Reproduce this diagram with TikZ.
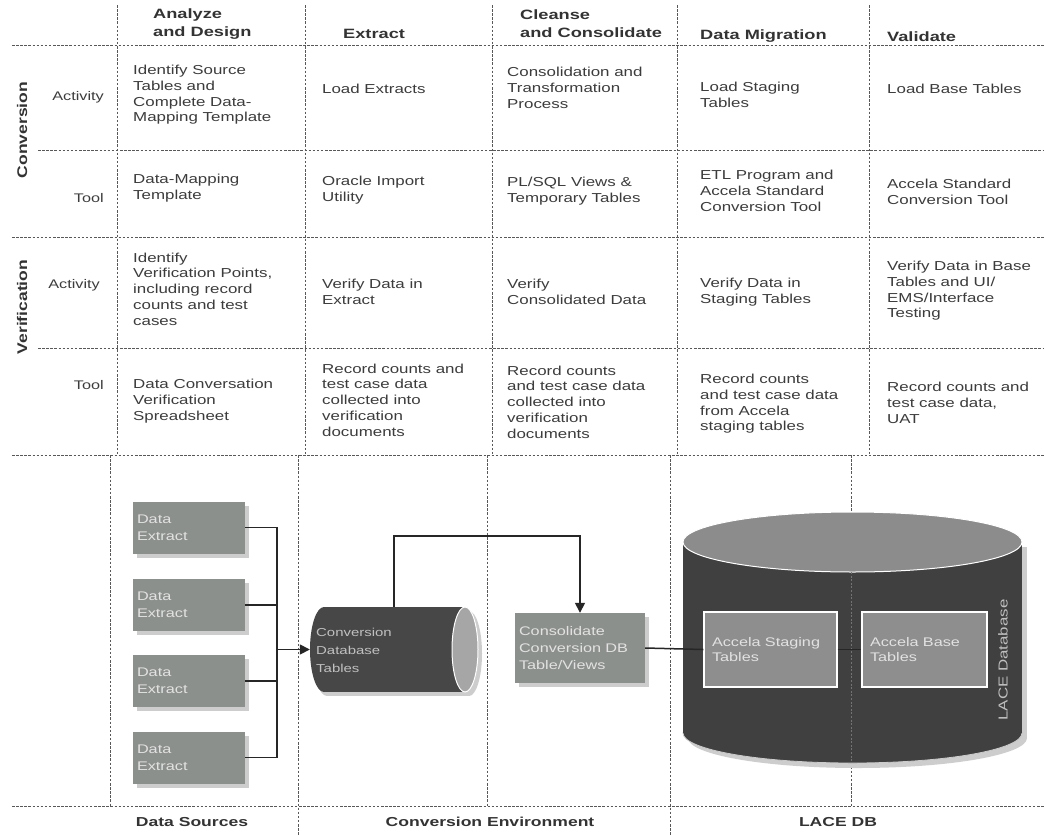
\documentclass[tikz,border=0pt]{standalone}
\usepackage{fontspec}
\setmainfont{Liberation Sans}
\newfontfamily\cellfam[FakeStretch=1.3]{Liberation Sans}
\newfontfamily\hdrfam[FakeStretch=1.35]{Liberation Sans}
\newfontfamily\sidefam[FakeStretch=1.25]{Liberation Sans}
\newfontfamily\boxfam[FakeStretch=1.3]{Liberation Sans}
\usetikzlibrary{arrows.meta,shadows,calc}
\definecolor{gridc}{HTML}{585858}
\definecolor{txt}{HTML}{3C3C3C}
\definecolor{hdrc}{HTML}{333333}
\definecolor{boxc}{HTML}{8C908C}
\definecolor{shadowc}{HTML}{CDCDCD}
\definecolor{convbody}{HTML}{474747}
\definecolor{convend}{HTML}{A6A6A6}
\definecolor{lacebody}{HTML}{404040}
\definecolor{lacetop}{HTML}{8C8C8C}
\definecolor{innerc}{HTML}{8E8E8E}
\definecolor{lighttxt}{HTML}{E2E2E2}
\tikzset{
  gridline/.style={draw=gridc, line width=0.9pt, dash pattern=on 2.5pt off 1.6pt},
  cell/.style={anchor=west, align=left, inner sep=0pt, text=txt,
    font=\cellfam\fontsize{13}{15.7}\selectfont},
  hdr/.style={anchor=west, align=left, inner sep=0pt, text=hdrc,
    font=\hdrfam\bfseries\fontsize{13.5}{18}\selectfont},
  rowlbl/.style={anchor=east, inner sep=0pt, text=txt,
    font=\cellfam\fontsize{12.5}{15.7}\selectfont},
  sidelbl/.style={rotate=90, inner sep=0pt, text=hdrc,
    font=\sidefam\bfseries\fontsize{14}{16}\selectfont},
  extractbox/.style={rectangle, fill=boxc, minimum width=112pt, minimum height=52pt,
    text width=104pt, inner xsep=4pt, align=left, text=lighttxt,
    font=\boxfam\fontsize{12.5}{17}\selectfont,
    drop shadow={opacity=1, fill=shadowc, shadow xshift=4pt, shadow yshift=-4pt}},
  innerbox/.style={rectangle, fill=innerc, draw=white, line width=1.2pt,
    minimum height=75pt, inner xsep=8pt, align=left, text=lighttxt,
    font=\boxfam\fontsize{12.5}{15}\selectfont},
  conn/.style={draw=black!85, line width=1.5pt},
  tip/.style={-{Triangle[length=10pt,width=10pt]}},
  foot/.style={inner sep=0pt, text=hdrc, font=\hdrfam\bfseries\fontsize{13}{15}\selectfont}
}
\begin{document}
\begin{tikzpicture}[x=1pt,y=-1pt]
\useasboundingbox[fill=white] (0,0) rectangle (1044,835);

% ---------- grid ----------
\draw[gridline] (12,45) -- (1044,45);
\draw[gridline] (38,150) -- (1044,150);
\draw[gridline] (12,237) -- (1044,237);
\draw[gridline] (38,348) -- (1044,348);
\draw[gridline] (12,455) -- (1044,455);
\draw[gridline] (12,806) -- (1044,806);
\foreach \x in {117,305,492,677,869} \draw[gridline] (\x,5) -- (\x,455);
\draw[gridline] (110,455) -- (110,806);
\draw[gridline] (298,455) -- (298,835);
\draw[gridline] (487,455) -- (487,806);
\draw[gridline] (670,455) -- (670,835);
\draw[gridline] (851,455) -- (851,806);

% ---------- headers ----------
\node[hdr] (h1) at (153,24) {Analyze\\and Design};
\node[hdr] (h2) at (343,34) {Extract};
\node[hdr] (h3) at (520,24) {Cleanse\\and  Consolidate};
\node[hdr] (h4) at (700,36) {Data Migration};
\node[hdr] (h5) at (887,37) {Validate};

% ---------- side labels ----------
\node[sidelbl] (sconv) at (22,130) {Conversion};
\node[sidelbl] (sver) at (22,307) {Verification};
\node[rowlbl] (l1) at (104,97) {Activity};
\node[rowlbl] (l2) at (104,198) {Tool};
\node[rowlbl] (l3) at (100,285) {Activity};
\node[rowlbl] (l4) at (104,385) {Tool};

% ---------- conversion activity ----------
\node[cell] (c11) at (133,95) {Identify Source\\Tables and\\Complete Data-\\Mapping Template};
\node[cell] (c12) at (322,89) {Load Extracts};
\node[cell] (c13) at (507,88) {Consolidation and\\Transformation\\Process};
\node[cell] (c14) at (700,95) {Load Staging\\Tables};
\node[cell] (c15) at (887,89) {Load Base Tables};
% ---------- conversion tool ----------
\node[cell] (c21) at (133,188) {Data-Mapping\\Template};
\node[cell] (c22) at (322,190) {Oracle Import\\Utility};
\node[cell] (c23) at (507,191) {PL/SQL Views \&\\Temporary Tables};
\node[cell] (c24) at (700,191) {ETL Program and\\Accela Standard\\Conversion Tool};
\node[cell] (c25) at (887,192) {Accela Standard\\Conversion Tool};
% ---------- verification activity ----------
\node[cell] (c31) at (133,289) {Identify\\Verification Points,\\including record\\counts and test\\cases};
\node[cell] (c32) at (322,292) {Verify Data in\\Extract};
\node[cell] (c33) at (507,292) {Verify\\Consolidated Data};
\node[cell] (c34) at (700,292) {Verify Data in\\Staging Tables};
\node[cell] (c35) at (887,291) {Verify Data in Base\\Tables and UI/\\EMS/Interface\\Testing};
% ---------- verification tool ----------
\node[cell] (c41) at (133,401) {Data Conversation\\Verification\\Spreadsheet};
\node[cell] (c42) at (322,400) {Record counts and\\test case data\\collected into\\verification\\documents};
\node[cell] (c43) at (507,402) {Record counts\\and test case data\\collected into\\verification\\documents};
\node[cell] (c44) at (700,404) {Record counts\\and test case data\\from Accela\\staging tables};
\node[cell] (c45) at (887,403) {Record counts and\\test case data,\\UAT};

% ---------- data extract boxes ----------
\node[extractbox] (d1) at (189,527.5) {Data\\Extract};
\node[extractbox] (d2) at (189,605) {Data\\Extract};
\node[extractbox] (d3) at (189,681) {Data\\Extract};
\node[extractbox] (d4) at (189,757.5) {Data\\Extract};

% ---------- conversion database cylinder ----------
\fill[shadowc] (327,611) rectangle (469,696);
\fill[shadowc] (327,653.5) ellipse[x radius=14, y radius=42.5];
\fill[shadowc] (469,653.5) ellipse[x radius=13, y radius=42.5];
\fill[convbody] (324,607) rectangle (465,692);
\fill[convbody] (324,649.5) ellipse[x radius=14, y radius=42.5];
\filldraw[fill=convend, draw=white, line width=1pt] (465,649.5) ellipse[x radius=13, y radius=42.5];
\node[inner sep=0pt, minimum width=168pt, minimum height=85pt] (conv) at (394,649.5) {};
\node[anchor=west, align=left, inner sep=0pt, text=lighttxt!85!black,
  font=\boxfam\fontsize{11.5}{18}\selectfont] (convtxt) at (316,650) {Conversion\\Database\\Tables};

% ---------- consolidate box ----------
\node[extractbox, minimum width=130pt, minimum height=70pt, text width=122pt] (consol) at (580,648)
  {Consolidate\\Conversion DB\\Table/Views};

% ---------- LACE cylinder ----------
\fill[shadowc] (688,547) rectangle (1027,738);
\fill[shadowc] (857.5,738) ellipse[x radius=169.5, y radius=30];
\fill[lacebody] (683,542) rectangle (1022,733);
\filldraw[fill=lacebody, draw=white!80!black, line width=0.8pt] (852.5,733) ellipse[x radius=169.5, y radius=30];
\fill[lacebody] (683,542) rectangle (1022,733);
\filldraw[fill=lacetop, draw=white, line width=1pt] (852.5,542) ellipse[x radius=169.5, y radius=30];
\node[inner sep=0pt, minimum width=339pt, minimum height=251pt] (lace) at (852.5,637.5) {};
\draw[draw=white!45!black, line width=0.7pt, dash pattern=on 2pt off 1.6pt] (851,572) -- (851,762);
\node[innerbox, minimum width=133pt, text width=117pt] (staging) at (770.5,649.5) {Accela Staging\\Tables};
\node[innerbox, minimum width=125pt, text width=109pt] (base) at (924.5,649.5) {Accela Base\\Tables};
\node[rotate=90, inner sep=0pt, text=lighttxt!85!black, font=\boxfam\fontsize{13}{15}\selectfont] (lacetxt) at (1003,660) {LACE Database};

% ---------- connectors ----------
\coordinate (bus) at (277,649.5);
\coordinate (turn) at (580,536);
\draw[conn] (d1.east) -| (bus);
\draw[conn] (d2.east) -| (bus);
\draw[conn] (d3.east) -| (bus);
\draw[conn] (d4.east) -| (bus);
\draw[conn,tip] (bus) -- (conv.west);
\draw[conn,tip] (conv.north) |- (turn) -- (consol.north);
\draw[conn] (consol.east) -- (staging.west);
\draw[conn] (staging.east) -- (base.west);

% ---------- footer ----------
\node[foot] (f1) at (192,822) {Data Sources};
\node[foot] (f2) at (490,822) {Conversion Environment};
\node[foot] (f3) at (838,822) {LACE DB};
\end{tikzpicture}
\end{document}
